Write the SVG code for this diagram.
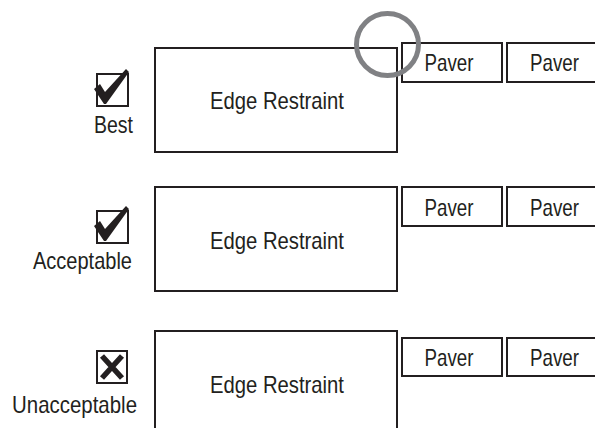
<svg xmlns="http://www.w3.org/2000/svg" width="595" height="428" viewBox="0 0 595 428">
<style>
.box{fill:#fff;stroke:#231f20;stroke-width:2}
.t{font-family:"Liberation Sans",Arial,sans-serif;font-size:24px;fill:#231f20}
.m{text-anchor:middle}
.e{text-anchor:end}
.cb{fill:none;stroke:#231f20;stroke-width:2}
</style>
<defs>
<path id="check" d="M-3,18 L3,13 L8,21 L29,-2 L32,1 L9,33 L7,33 Z" fill="#231f20"/>
</defs>
<rect width="595" height="428" fill="#fff"/>
<g id="row-best">
<rect class="box" x="155" y="48" width="242" height="104"/>
<text class="t m" x="277" y="108.5" textLength="134" lengthAdjust="spacingAndGlyphs">Edge Restraint</text>
<rect class="box" x="402" y="43" width="100" height="39"/>
<text class="t m" x="449" y="71" textLength="49" lengthAdjust="spacingAndGlyphs">Paver</text>
<rect class="box" x="507" y="43" width="100" height="39"/>
<text class="t m" x="554.5" y="71" textLength="49" lengthAdjust="spacingAndGlyphs">Paver</text>
<rect class="cb" x="97" y="74" width="31" height="32"/>
<use href="#check" x="97" y="71"/>
<text class="t m" x="113.5" y="132.5" textLength="39" lengthAdjust="spacingAndGlyphs">Best</text>
<circle cx="387.5" cy="44.5" r="31" fill="none" stroke="#808184" stroke-width="5"/>
</g>
<g id="row-acceptable">
<rect class="box" x="155" y="187" width="242" height="104"/>
<text class="t m" x="277" y="248.5" textLength="134" lengthAdjust="spacingAndGlyphs">Edge Restraint</text>
<rect class="box" x="402" y="187" width="100" height="39"/>
<text class="t m" x="449" y="216" textLength="49" lengthAdjust="spacingAndGlyphs">Paver</text>
<rect class="box" x="507" y="187" width="100" height="39"/>
<text class="t m" x="554.5" y="216" textLength="49" lengthAdjust="spacingAndGlyphs">Paver</text>
<rect class="cb" x="97" y="211" width="31" height="32"/>
<use href="#check" x="97" y="208"/>
<text class="t e" x="132" y="268.5" textLength="99" lengthAdjust="spacingAndGlyphs">Acceptable</text>
</g>
<g id="row-unacceptable">
<rect class="box" x="155" y="331" width="242" height="110"/>
<text class="t m" x="277" y="392.5" textLength="134" lengthAdjust="spacingAndGlyphs">Edge Restraint</text>
<rect class="box" x="402" y="338" width="100" height="38"/>
<text class="t m" x="449" y="365.5" textLength="49" lengthAdjust="spacingAndGlyphs">Paver</text>
<rect class="box" x="507" y="338" width="100" height="38"/>
<text class="t m" x="554.5" y="365.5" textLength="49" lengthAdjust="spacingAndGlyphs">Paver</text>
<rect class="cb" x="97" y="351" width="30" height="32"/>
<path d="M102,356 L122,378 M122,356 L102,378" stroke="#231f20" stroke-width="5.5" fill="none"/>
<text class="t e" x="137" y="412.5" textLength="125" lengthAdjust="spacingAndGlyphs">Unacceptable</text>
</g>
<g id="connectors"/>
</svg>
